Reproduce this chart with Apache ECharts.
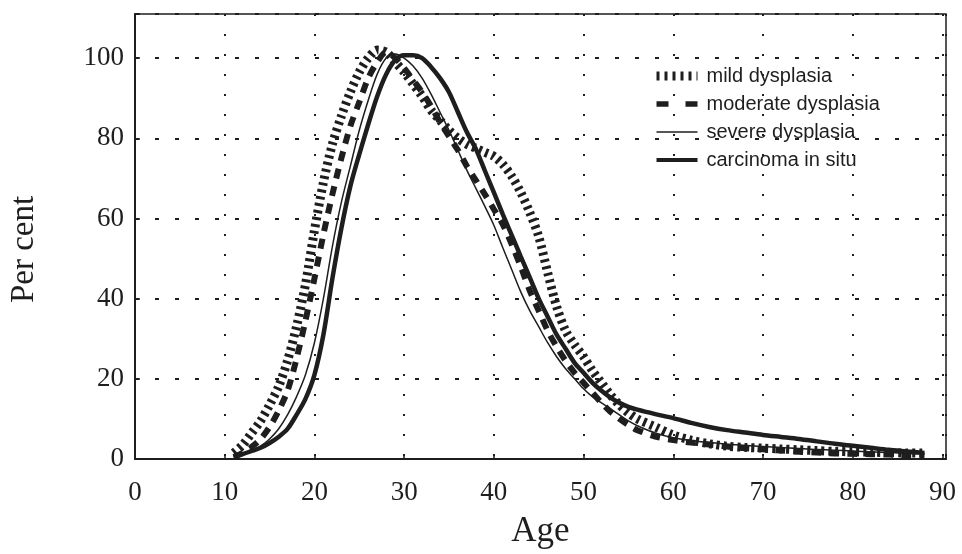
<!DOCTYPE html>
<html><head><meta charset="utf-8">
<script src="https://cdn.jsdelivr.net/npm/echarts@6/dist/echarts.min.js"></script>
<style>html,body{margin:0;padding:0;background:#fff}#c{width:962px;height:554px}</style>
</head><body><div id="c"></div>
<script>
// Age (years)
const ages = [11,12,13,14,15,16,17,18,19,20,21,22,23,24,25,26,27,28,29,30,31,32,33,34,35,36,37,38,39,40,41,42,43,44,45,46,47,48,49,50,51,52,53,54,55,56,58,60,62,64,66,68,70,72,74,76,78,80,82,84,86,88];
// Per cent
const mild = [1.5,3.5,6.5,9.5,13.5,18,24.5,33,43.5,57,69,78.5,85.5,91.5,96.5,100,102,101.5,99,96.5,93.5,90.5,87,84.5,82,80,78.5,77.5,76.5,75.5,73.5,70.5,66.5,61.5,55.5,46.5,38,32,28.5,25.5,22,19,16,13.5,11.5,10,8,6,4.7,3.8,3.2,2.9,2.7,2.5,2.3,2.1,1.9,1.8,1.7,1.6,1.5,1.5];
const moderate = [0.5,1.5,3,5,8,12,17,25,34.5,45,56,66,75,83,89,95,99,101.5,100,97.5,94.5,91.5,88,84,80.5,77,73,69.5,66,62.3,58.5,53.5,48,42,37,32,28,24.5,21.5,19,16.5,14,11.8,10,8.5,7.2,5.6,4.7,4.1,3.6,3.1,2.7,2.4,2.1,1.8,1.6,1.4,1.3,1.2,1.1,1.0,0.9];
const severe = [0.5,1.2,2,3.2,5,7.5,11,15.5,21,29,40,53,64,73,82,89.5,96,100,101,100,98,95,91,86.5,82,77,72,67.5,63,58.3,52.7,47.2,41.7,37,33,29,25.5,22.5,20,17.5,15.5,14,12.5,11,9.5,8.3,6.5,5.3,4.6,4.1,3.7,3.4,3.1,2.9,2.6,2.4,2.2,2.0,1.8,1.6,1.4,1.3];
const carcinoma = [0.5,1.2,2,2.8,4,5.5,7.5,11,15,21,31,45,57.5,68,76,83.5,90.5,96,99.5,100.7,100.7,100,97.8,95,91.5,86.5,81.5,77.3,71.9,66.5,61,55.8,50.5,45.3,40,35.5,31,27.5,24,21.5,19,17,15.3,14,13,12.3,11.2,10.2,9,8,7.2,6.6,6,5.5,5,4.4,3.8,3.3,2.8,2.3,1.9,1.5];
const seriesNames = ['mild dysplasia','moderate dysplasia','severe dysplasia','carcinoma in situ'];
const xTicks = [0,10,20,30,40,50,60,70,80,90];
const yTicks = [0,20,40,60,80,100];

const ink = '#1e1e1e';
const serif = 'Liberation Serif';
const sans = 'Liberation Sans';
function pairs(v){ return ages.map((a,i)=>[a,v[i]]); }

const styles = [
  {width:9, type:[3,4]},
  {width:6, type:[10,8]},
  {width:1.5, type:'solid'},
  {width:4.5, type:'solid'}
];
const legendStyles = [
  {width:9, type:[3,5]},
  {width:5.5, type:[12,17]},
  {width:1.5, type:'solid'},
  {width:4, type:'solid'}
];
const values = [mild, moderate, severe, carcinoma];

const chart = echarts.init(document.getElementById('c'), null, {renderer:'canvas'});
chart.setOption({
  animation:false,
  backgroundColor:'#fff',
  color:[ink, ink, ink, ink],
  grid:{left:133, right:16, top:14, bottom:95, show:true, borderColor:ink, borderWidth:1.5, backgroundColor:'transparent'},
  xAxis:{
    type:'value', min:0, max:90.4, interval:10,
    name:'Age', nameLocation:'middle', nameGap:55,
    nameTextStyle:{fontFamily:serif, fontSize:35, color:ink},
    axisLine:{show:true, onZero:false, lineStyle:{color:ink, width:2}},
    axisTick:{show:true, inside:true, length:5, lineStyle:{color:ink, width:1.5}},
    axisLabel:{margin:20, fontFamily:serif, fontSize:27, color:ink, formatter:v=>xTicks.includes(v)?String(v):''},
    splitLine:{show:true, lineStyle:{color:ink, width:2, type:[2,18]}}
  },
  yAxis:{
    type:'value', min:0, max:111, interval:20,
    name:'Per cent', nameLocation:'middle', nameGap:94,
    nameTextStyle:{fontFamily:serif, fontSize:33, color:ink, padding:[0,26,0,0]},
    axisLine:{show:true, onZero:false, lineStyle:{color:ink, width:2}},
    axisTick:{show:true, inside:true, length:5, lineStyle:{color:ink, width:1.5}},
    axisLabel:{margin:11, fontFamily:serif, fontSize:27, color:ink, formatter:v=>yTicks.includes(v)?String(v):''},
    splitLine:{show:true, lineStyle:{color:ink, width:2, type:[4,16]}}
  },
  legend:{
    orient:'vertical', left:652, top:66, padding:0, itemWidth:41, itemHeight:12, itemGap:8,
    textStyle:{fontFamily:sans, fontSize:20, color:ink, lineHeight:20, padding:[0,0,0,4]},
    data:seriesNames.map((n,i)=>({name:n, itemStyle:{opacity:0}, lineStyle:Object.assign({color:ink, cap:'butt', opacity:1}, legendStyles[i])}))
  },
  series:seriesNames.map((n,i)=>({
    name:n, type:'line', data:pairs(values[i]), symbol:'none', showSymbol:false, smooth:0.3,
    itemStyle:{color:ink},
    lineStyle:Object.assign({color:ink, cap:'butt'}, styles[i]),
    z:2+i
  }))
});
</script>
</body></html>
